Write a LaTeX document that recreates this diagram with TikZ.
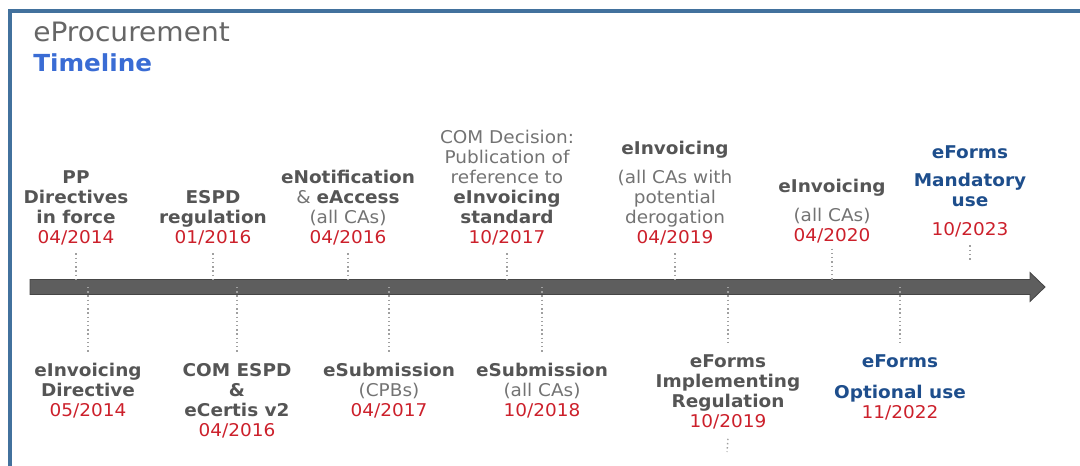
\documentclass[tikz,border=0pt]{standalone}
\usepackage{fontspec}
\setmainfont{DejaVu Sans}[FakeStretch=1.05]
\usepackage{tikz}
\usetikzlibrary{calc}
\definecolor{frameblue}{RGB}{66,113,157}
\definecolor{titlegray}{RGB}{102,102,102}
\definecolor{titleblue}{RGB}{58,108,212}
\definecolor{lblgray}{RGB}{85,85,85}
\definecolor{txtgray}{RGB}{115,115,115}
\definecolor{datered}{RGB}{204,32,43}
\definecolor{formsblue}{RGB}{30,78,140}
\definecolor{axisgray}{RGB}{94,94,94}
\definecolor{axisedge}{RGB}{70,70,70}
\definecolor{tickgray}{RGB}{160,160,160}
\newcommand{\bld}[1]{\textcolor{lblgray}{\bfseries #1}}
\newcommand{\dte}[1]{\textcolor{datered}{#1}}
\newcommand{\nvy}[1]{\textcolor{formsblue}{\bfseries #1}}

\begin{document}
\begin{tikzpicture}[x=0.025cm,y=-0.025cm,
  event/.style={align=center,inner sep=0pt,text=txtgray,font=\fontsize{12.5}{14.2}\selectfont},
  evtop/.style={event,anchor=south},
  evbot/.style={event,anchor=north},
  dotline/.style={draw=tickgray,dotted,line width=1pt}]
\useasboundingbox (0,0) rectangle (1080,466);

\draw[frameblue,line width=2.9pt] (10,466) -- (10,11) -- (1080,11);

\node[anchor=base west,inner sep=0pt,text=titlegray,font=\fontsize{19}{22}\selectfont] (title) at (33,42) {eProcurement};
\node[anchor=base west,inner sep=0pt,text=titleblue,font=\fontsize{16.7}{20}\selectfont\bfseries] (subtitle) at (33,72) {Timeline};

\draw[fill=axisgray,draw=axisedge,line width=0.6pt]
(30,279.5) -- (1030,279.5) -- (1030,272.5) -- (1045,287) -- (1030,301.5) -- (1030,294.5) -- (30,294.5) -- cycle;
\coordinate (axtop) at (0,281);
\coordinate (axmid) at (0,287);

\node[evtop] (ppdir) at (76,245) {\bld{PP}\\\bld{Directives}\\\bld{in force}\\\dte{04/2014}};
\draw[dotline] ([yshift=-6pt]ppdir.south) -- (ppdir.south |- axtop);

\node[evtop] (espd) at (213,245) {\bld{ESPD}\\\bld{regulation}\\\dte{01/2016}};
\draw[dotline] ([yshift=-6pt]espd.south) -- (espd.south |- axtop);

\node[evtop] (enotif) at (348,245) {\bld{eNotification}\\\& \bld{eAccess}\\(all CAs)\\\dte{04/2016}};
\draw[dotline] ([yshift=-6pt]enotif.south) -- (enotif.south |- axtop);

\node[evtop] (comdec) at (507,245) {COM Decision:\\Publication of\\reference to\\\bld{eInvoicing}\\\bld{standard}\\\dte{10/2017}};
\draw[dotline] ([yshift=-6pt]comdec.south) -- (comdec.south |- axtop);

\node[evtop] (einvca) at (675,245) {\bld{eInvoicing}\\[6pt](all CAs with\\potential\\derogation\\\dte{04/2019}};
\draw[dotline] ([yshift=-6pt]einvca.south) -- (einvca.south |- axtop);

\node[evtop] (einvall) at (832,243) {\bld{eInvoicing}\\[6pt](all CAs)\\\dte{04/2020}};
\draw[dotline] ([yshift=-4pt]einvall.south) -- (einvall.south |- axtop);

\node[evtop] (eformsman) at (970,237) {\nvy{eForms}\\[6pt]\nvy{Mandatory}\\\nvy{use}\\[6pt]\dte{10/2023}};
\coordinate (eformsend) at (970,262);
\draw[dotline] ([yshift=-6pt]eformsman.south) -- (eformsend);

\node[evbot] (einvdir) at (88,363) {\bld{eInvoicing}\\\bld{Directive}\\\dte{05/2014}};
\draw[dotline] (einvdir.north |- axmid) -- ([yshift=8pt]einvdir.north);

\node[evbot] (comespd) at (237,363) {\bld{COM ESPD}\\\bld{\&}\\\bld{eCertis v2}\\\dte{04/2016}};
\draw[dotline] (comespd.north |- axmid) -- ([yshift=8pt]comespd.north);

\node[evbot] (esubcpb) at (389,363) {\bld{eSubmission}\\(CPBs)\\\dte{04/2017}};
\draw[dotline] (esubcpb.north |- axmid) -- ([yshift=8pt]esubcpb.north);

\node[evbot] (esuball) at (542,363) {\bld{eSubmission}\\(all CAs)\\\dte{10/2018}};
\draw[dotline] (esuball.north |- axmid) -- ([yshift=8pt]esuball.north);

\node[evbot] (eformsimp) at (728,354) {\bld{eForms}\\\bld{Implementing}\\\bld{Regulation}\\\dte{10/2019}};
\draw[dotline] (eformsimp.north |- axmid) -- ([yshift=8pt]eformsimp.north);
\coordinate (eformstail) at (727,452);
\draw[dotline] ([yshift=-7pt]eformsimp.south) -- (eformstail);

\node[evbot] (eformsopt) at (900,354) {\nvy{eForms}\\[8pt]\nvy{Optional use}\\\dte{11/2022}};
\draw[dotline] (eformsopt.north |- axmid) -- ([yshift=8pt]eformsopt.north);

\end{tikzpicture}
\end{document}
